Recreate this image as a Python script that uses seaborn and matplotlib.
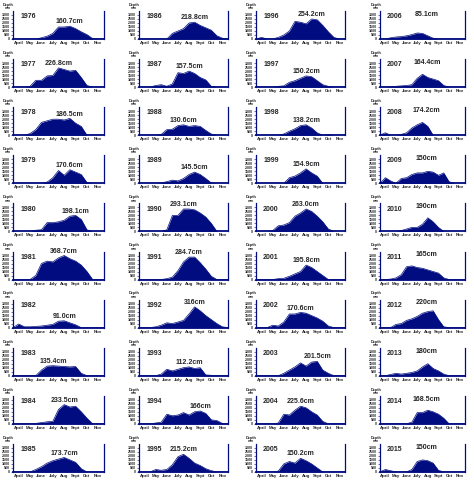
import numpy as np
import pandas as pd
import matplotlib.pyplot as plt
import seaborn as sns

# depth read every half month, from 1 April to 1 December
half_months = np.arange(0, 8.5, 0.5)
month_names = ['April', 'May', 'June', 'July', 'Aug', 'Sept', 'Oct', 'Nov']

d1976 = [0, 0, 0, 0, 0, 150, 350, 700, 1500, 1500, 1600, 1300, 900, 550, 50, 0, 0]
d1977 = [0, 0, 0, 100, 850, 850, 1400, 1450, 2400, 2200, 2000, 2100, 1200, 200, 0, 0, 0]
d1978 = [0, 0, 0, 200, 700, 1600, 1800, 2000, 2000, 1900, 2100, 1500, 1100, 0, 0, 0, 0]
d1979 = [0, 0, 0, 0, 0, 0, 150, 700, 1600, 1000, 1700, 1400, 1100, 100, 0, 0, 0]
d1980 = [0, 0, 0, 0, 150, 200, 1100, 1100, 1200, 1400, 1900, 2000, 1500, 200, 0, 0, 0]
d1981 = [0, 0, 0, 0, 500, 2000, 2300, 2200, 2700, 3000, 2600, 2300, 1800, 1000, 0, 0, 0]
d1982 = [0, 450, 100, 100, 150, 200, 300, 400, 800, 850, 600, 350, 0, 0, 0, 0, 0]
d1983 = [0, 0, 0, 0, 0, 700, 1200, 1250, 1200, 1150, 1100, 1150, 300, 0, 0, 0, 0]
d1984 = [0, 0, 0, 0, 50, 150, 250, 300, 1800, 2400, 2100, 2200, 1500, 700, 0, 0, 0]
d1985 = [0, 0, 0, 0, 300, 650, 1100, 1400, 1600, 1800, 1500, 1200, 400, 0, 0, 0, 0]

d1986 = [0, 0, 0, 0, 0, 0, 700, 1000, 1300, 2000, 2100, 1700, 1400, 1100, 400, 100, 0]
d1987 = [0, 0, 0, 200, 300, 100, 400, 1800, 1700, 2000, 1700, 1200, 900, 100, 0, 0, 0]
d1988 = [0, 0, 0, 0, 100, 700, 750, 1200, 1300, 1100, 1200, 1100, 600, 150, 0, 0, 0]
d1989 = [0, 0, 0, 0, 50, 200, 400, 300, 600, 1100, 1400, 1100, 600, 50, 0, 0, 0]
d1990 = [0, 0, 0, 0, 0, 200, 2000, 2000, 2800, 2800, 2700, 2300, 1800, 1000, 0, 0, 0]
d1991 = [0, 0, 0, 0, 0, 100, 300, 1100, 2200, 2800, 2800, 2100, 1300, 400, 0, 0, 0]
d1992 = [0, 0, 0, 100, 300, 600, 500, 700, 900, 1700, 2600, 2100, 1500, 1000, 500, 100, 0]
d1993 = [0, 0, 0, 0, 200, 800, 600, 800, 1000, 1100, 900, 1000, 100, 50, 0, 0, 0]
d1994 = [0, 0, 0, 100, 200, 1200, 1000, 1100, 1400, 1100, 1500, 1600, 1300, 500, 400, 50, 0]
d1995 = [0, 0, 0, 300, 200, 300, 900, 1900, 2200, 1700, 1100, 800, 400, 150, 0, 0, 0]

d1996 = [0, 200, 0, 0, 200, 500, 1000, 2200, 2100, 1900, 2500, 2400, 1700, 900, 200, 0, 0]
d1997 = [0, 0, 0, 0, 100, 150, 600, 800, 1100, 1400, 1300, 800, 300, 100, 0, 0, 0]
d1998 = [0, 0, 0, 0, 0, 150, 500, 800, 1200, 1300, 900, 300, 0, 100, 0, 0, 0]
d1999 = [0, 0, 0, 0, 0, 0, 700, 900, 1300, 1800, 1300, 900, 0, 0, 0, 0, 0]
d2000 = [0, 0, 0, 100, 700, 800, 1100, 1900, 2300, 2800, 2500, 1900, 1200, 300, 0, 0, 0]
d2001 = [0, 0, 0, 0, 100, 150, 400, 700, 1000, 1800, 1500, 1000, 500, 0, 0, 0, 0]
d2002 = [0, 0, 0, 300, 200, 700, 1700, 1700, 1900, 1800, 1500, 1200, 800, 200, 0, 0, 0]
d2003 = [0, 0, 0, 0, 0, 300, 700, 1100, 1600, 1200, 1700, 1800, 700, 300, 0, 0, 0]
d2004 = [0, 0, 0, 0, 100, 1200, 1100, 1700, 2200, 2000, 1500, 1100, 300, 0, 0, 0, 0]
d2005 = [0, 0, 0, 0, 100, 1000, 1300, 1100, 1700, 1400, 1000, 500, 0, 0, 0, 0, 0]

d2006 = [0, 0, 150, 250, 300, 400, 550, 750, 700, 400, 100, 0, 0, 0, 0, 0, 0]
d2007 = [0, 0, 50, 100, 150, 200, 300, 1100, 1600, 1200, 1000, 800, 200, 0, 0, 0, 0]
d2008 = [0, 300, 0, 0, 100, 300, 900, 1300, 1600, 1100, 0, 0, 0, 0, 0, 0, 0]
d2009 = [0, 700, 300, 0, 600, 700, 1100, 1300, 1300, 1500, 1400, 1000, 1300, 200, 0, 0, 0]
d2010 = [0, 0, 0, 0, 100, 300, 500, 500, 900, 1700, 1200, 500, 0, 0, 0, 0, 0]
d2011 = [0, 0, 50, 200, 600, 1600, 1700, 1500, 1400, 1200, 1000, 800, 200, 0, 0, 0, 0]
d2012 = [0, 0, 0, 400, 500, 900, 1100, 1400, 1800, 2000, 2100, 1000, 100, 0, 0, 0, 0]
d2013 = [0, 0, 150, 300, 200, 300, 400, 600, 1100, 1500, 900, 600, 200, 0, 0, 0, 0]
d2014 = [0, 0, 0, 0, 0, 0, 200, 1400, 1400, 1700, 1500, 1200, 700, 0, 0, 0, 0]
d2015 = [0, 300, 150, 0, 0, 0, 300, 1300, 1500, 1400, 1100, 200, 0, 0, 0, 0, 0]

peak_labels = ['160.7cm', '226.8cm', '186.5cm', '170.6cm', '198.1cm',
               '368.7cm', '91.0cm', '135.4cm', '233.5cm', '173.7cm',
               '218.8cm', '157.5cm', '130.6cm', '145.5cm', '293.1cm',
               '284.7cm', '316cm', '112.2cm', '166cm', '215.2cm',
               '254.2cm', '150.2cm', '138.2cm', '154.9cm', '263.0cm',
               '195.8cm', '170.6cm', '201.5cm', '225.6cm', '150.2cm',
               '85.1cm', '164.4cm', '174.2cm', '150cm', '190cm',
               '165cm', '220cm', '180cm', '168.5cm', '150cm']

series = [d1976, d1977, d1978, d1979, d1980, d1981, d1982, d1983, d1984, d1985,
          d1986, d1987, d1988, d1989, d1990, d1991, d1992, d1993, d1994, d1995,
          d1996, d1997, d1998, d1999, d2000, d2001, d2002, d2003, d2004, d2005,
          d2006, d2007, d2008, d2009, d2010, d2011, d2012, d2013, d2014, d2015]
years = list(range(1976, 2016))

navy = '#000c80'
sns.set_style('white')
plt.rcParams['font.family'] = ['Liberation Sans', 'DejaVu Sans']

fig = plt.figure(figsize=(4.74, 4.80), dpi=100)
W, H = 474, 480
col_left = [13, 139, 256, 380]
col_right = [104, 228, 345, 465]

for i, (yr, vals) in enumerate(zip(years, series)):
    col, row = i // 10, i % 10
    bottom_px = 39 + 48.1 * row
    ax = fig.add_axes([col_left[col] / W, 1 - bottom_px / H,
                       (col_right[col] - col_left[col]) / W, 28 / H])
    df = pd.DataFrame({'t': half_months, 'depth': vals})
    ax.fill_between(df['t'], df['depth'], color=navy, lw=0)
    sns.lineplot(data=df, x='t', y='depth', ax=ax, color=navy, lw=0.5)
    ax.set_xlim(0, 8)
    ax.set_ylim(0, 3500)
    ax.set_xlabel('')
    ax.set_ylabel('')

    ax.set_xticks(range(9))
    ax.set_xticklabels([])
    ax.set_xticks(np.arange(0.5, 8, 1), minor=True)
    ax.set_xticklabels(month_names, minor=True, fontsize=3.2, fontweight='bold')
    ax.tick_params(axis='x', which='major', length=1.5, width=0.5, color=navy)
    ax.tick_params(axis='x', which='minor', length=0, pad=1.5)
    ax.set_yticks(range(0, 3500, 500))
    ax.set_yticklabels([str(v) for v in range(0, 3500, 500)], fontsize=2.6, fontweight='bold')
    ax.tick_params(axis='y', length=1.2, width=0.4, pad=0.8, color=navy, left=True)

    for side in ['left', 'right']:
        ax.spines[side].set_color(navy)
        ax.spines[side].set_linewidth(0.9)
    ax.spines['bottom'].set_color(navy)
    ax.spines['bottom'].set_linewidth(1.3)
    ax.spines['top'].set_visible(False)

    ax.text(-0.11, 1.22, 'Depth', transform=ax.transAxes, fontsize=2.8,
            fontweight='bold', ha='left', va='center')
    ax.text(-0.09, 1.1, 'mm', transform=ax.transAxes, fontsize=2.4,
            fontweight='bold', ha='left', va='center')
    ax.text(0.08, 0.8, str(yr), transform=ax.transAxes, fontsize=5,
            fontweight='bold', ha='left', va='center')
    if col < 3:
        k = int(np.argmax(vals))
        ax.text(half_months[k], min(vals[k] + 550, 3700), peak_labels[i],
                fontsize=5, fontweight='bold', ha='center', va='center',
                clip_on=False)
    else:
        ax.text(0.55, 0.88, peak_labels[i], transform=ax.transAxes, fontsize=5,
                fontweight='bold', ha='center', va='center', color='#222222')

fig.savefig('out.png', dpi=100)
